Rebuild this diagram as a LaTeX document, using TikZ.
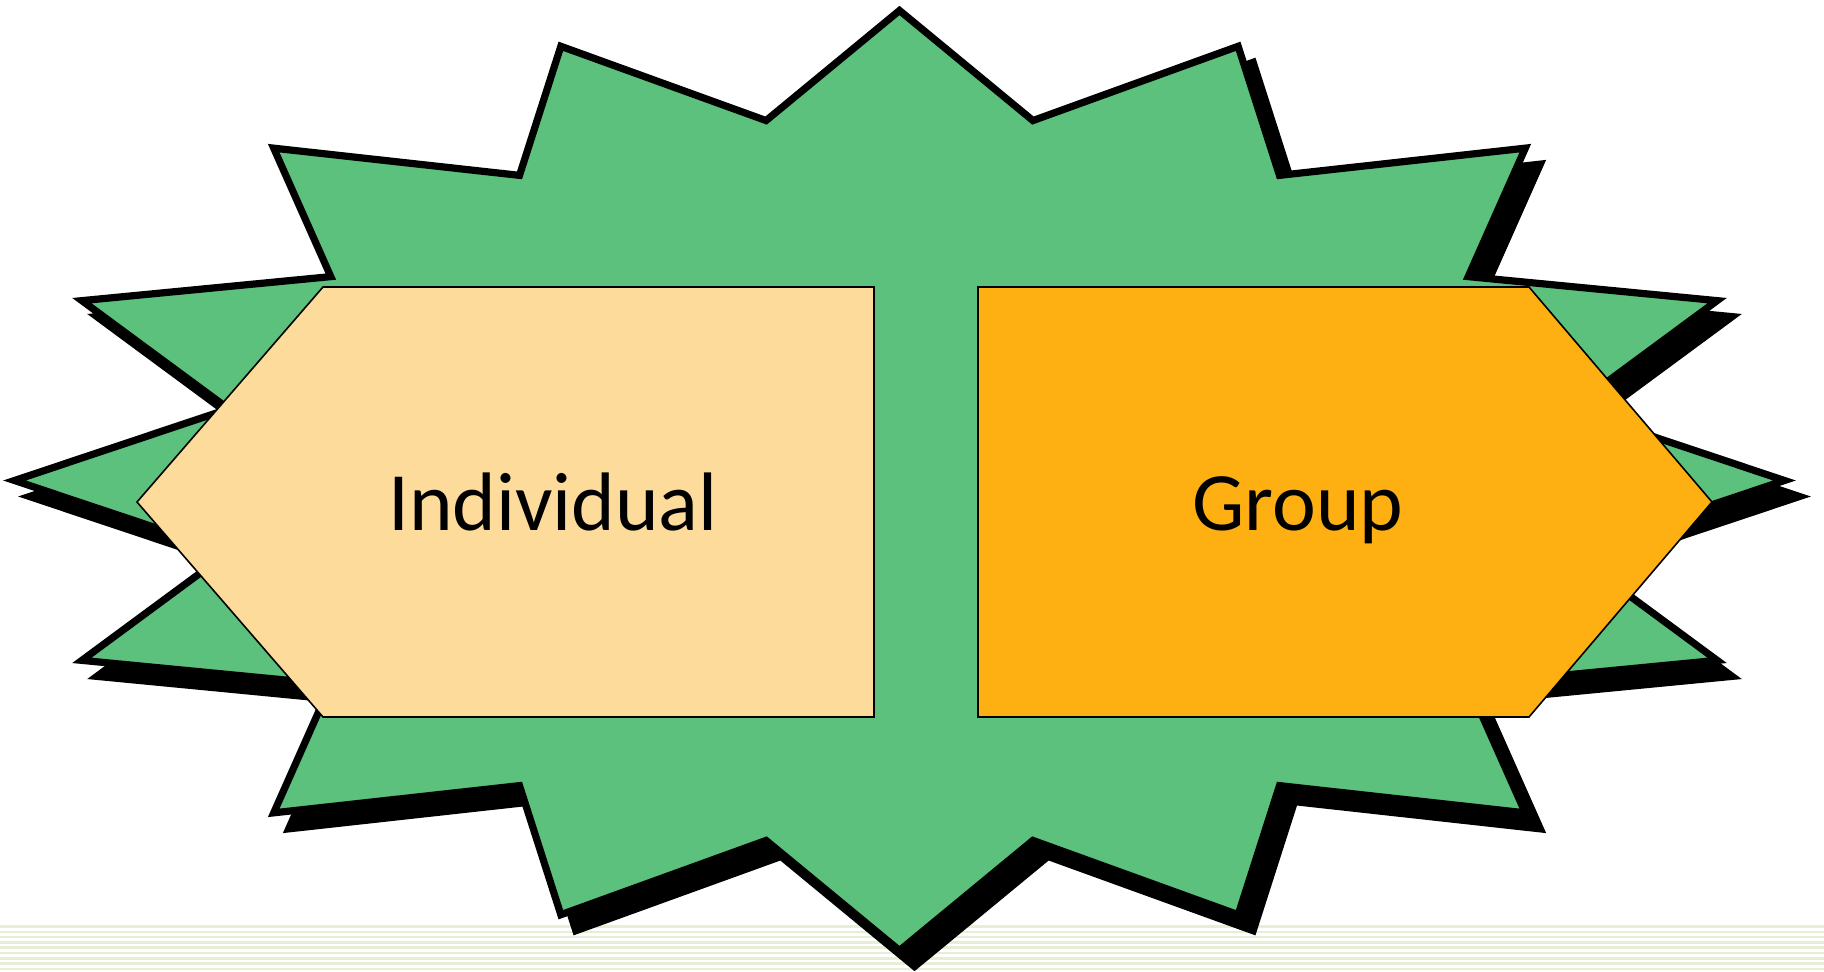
\documentclass[tikz,border=0pt]{standalone}
\usepackage{fontspec}
\setmainfont{Carlito}
\definecolor{stargreen}{RGB}{92,193,124}
\definecolor{palearrow}{RGB}{253,219,154}
\definecolor{orangearrow}{RGB}{254,175,17}
\definecolor{stripe}{RGB}{230,238,214}
\tikzset{
  starline/.style={line width=7.2pt, line join=miter, miter limit=10},
  arrowbox/.style={draw=black, line width=1.6pt, line join=miter},
  label/.style={inner sep=0pt, anchor=base, font=\fontsize{83}{90}\selectfont},
}
\newcommand\mystarpath[2]{%
  ({899.5+#1},{480.5-470+#2})
  \foreach \i in {0,...,14}{
    -- ({899.5+684*sin(22.5*\i+11.25)+#1},{480.5-367*cos(22.5*\i+11.25)+#2})
    -- ({899.5+885*sin(22.5*\i+22.5)+#1},{480.5-470*cos(22.5*\i+22.5)+#2})
  }
  -- ({899.5+684*sin(348.75)+#1},{480.5-367*cos(348.75)+#2}) -- cycle
}
\begin{document}
\begin{tikzpicture}[x=1pt,y=-1pt]
\useasboundingbox (0,0) rectangle (1824,972);
% background stripes
\foreach \y in {926.5,931.8,...,972}{
  \draw[stripe, line width=2.6pt] (0,\y) -- (1824,\y);
}
% shadow
\path[starline, fill=black, draw=black] \mystarpath{15}{16};
% star
\path[starline, fill=stargreen, draw=black] \mystarpath{0}{0};
% individual arrow
\path[arrowbox, fill=palearrow] (137,502) -- (323,287) -- (874,287) -- (874,717) -- (323,717) -- cycle;
% group arrow
\path[arrowbox, fill=orangearrow] (978,287) -- (1529,287) -- (1712,502) -- (1529,717) -- (978,717) -- cycle;
\node[label] (individual) at (553,530) {Individual};
\node[label] (group) at (1298,530) {Group};
\end{tikzpicture}
\end{document}
